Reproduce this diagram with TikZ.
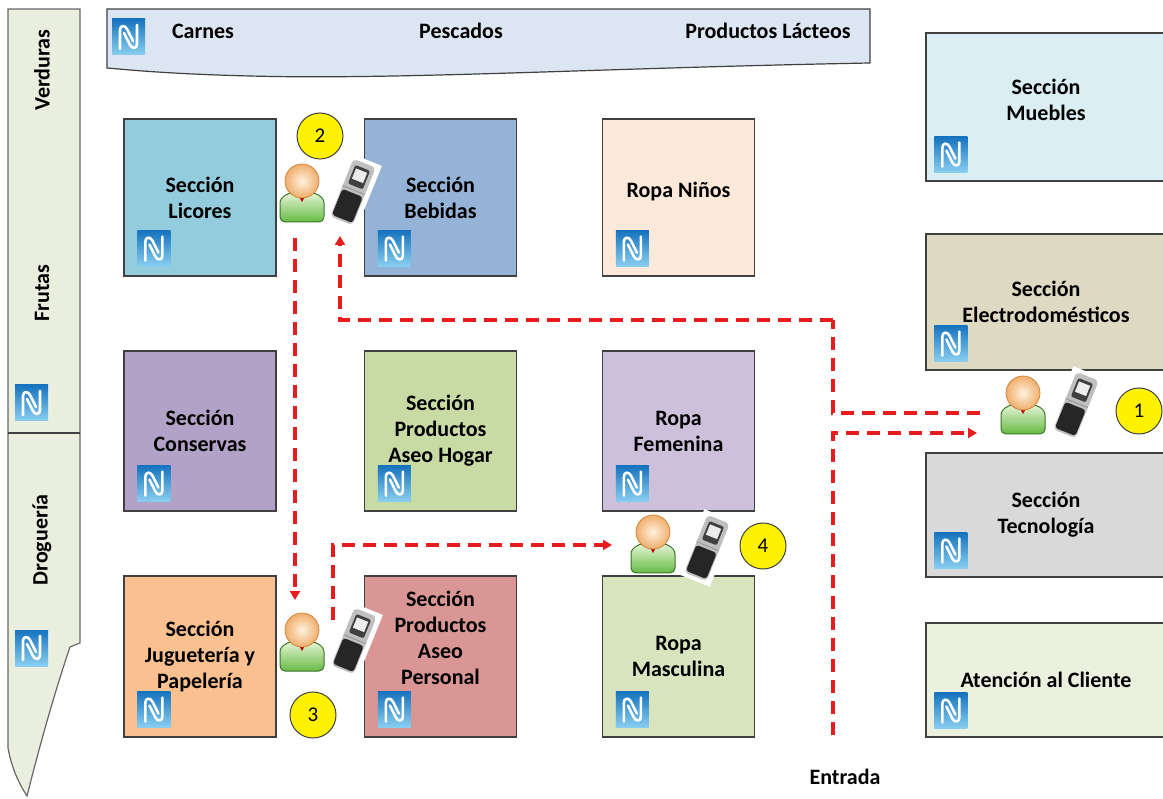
\documentclass[tikz,border=0pt]{standalone}
\usepackage{fontspec}
\setmainfont{Carlito}
\usetikzlibrary{arrows.meta}

% colori delle sezioni
\definecolor{bordo}{HTML}{404040}
\definecolor{licori}{HTML}{93CDDD}
\definecolor{bevande}{HTML}{95B3D7}
\definecolor{bambini}{HTML}{FDE9D9}
\definecolor{conserve}{HTML}{B3A2C7}
\definecolor{casa}{HTML}{C9DBA5}
\definecolor{donna}{HTML}{CCC0DA}
\definecolor{giochi}{HTML}{FAC090}
\definecolor{igiene}{HTML}{D99694}
\definecolor{uomo}{HTML}{D7E4BD}
\definecolor{mobili}{HTML}{DBEEF4}
\definecolor{elettro}{HTML}{DDD9C3}
\definecolor{tecno}{HTML}{D9D9D9}
\definecolor{cliente}{HTML}{EBF1DE}
\definecolor{banco}{HTML}{DCE6F2}
\definecolor{colonna}{HTML}{EAEEDF}
\definecolor{rosso}{HTML}{E81C1C}
\definecolor{nfcA}{HTML}{1673BE}
\definecolor{nfcB}{HTML}{8ACFF0}
\definecolor{verdeA}{HTML}{E8F6DA}
\definecolor{verdeB}{HTML}{66BA44}
\definecolor{verdeC}{HTML}{3A7526}
\definecolor{pelleA}{HTML}{FFF1DF}
\definecolor{pelleB}{HTML}{EFAE6C}

\tikzset{
  testo/.style={font=\bfseries\fontsize{22}{26}\selectfont},
  sezione/.style={testo, draw=bordo, line width=1.2pt, align=center,
    minimum width=152pt, minimum height=157pt, inner sep=0pt},
  reparto/.style={sezione, minimum width=240pt},
  numero/.style={circle, fill=yellow, draw=black!75, line width=1pt,
    minimum size=46pt, inner sep=0pt, font=\fontsize{21}{21}\selectfont},
  percorso/.style={draw=rosso, line width=3.4pt, dash pattern=on 13pt off 8pt},
  freccia/.style={percorso, -{Triangle[length=9pt,width=10pt]}},
  % logo NFC
  nfc/.pic={
    \shade[top color=nfcA, bottom color=nfcB] (0,0) rectangle (33,36);
    \draw[white, line width=2.6pt, line cap=round, line join=round]
      (8,30) -- (8,11) .. controls (8,6) and (13,6) .. (15,10) -- (21,22);
    \draw[white, line width=2.6pt, line cap=round, line join=round]
      (25,6) -- (25,25) .. controls (25,30) and (20,30) .. (18,26) -- (12,14);
  },
  % cliente
  persona/.pic={
    \draw[draw=verdeC, line width=1pt, top color=verdeA, bottom color=verdeB, rounded corners=5pt]
      (-22,41) -- (-22,27) .. controls (-22,15) and (-12,11) .. (0,11)
      .. controls (12,11) and (22,15) .. (22,27) -- (22,41) -- cycle;
    \fill[red!80!black] (-5,12) -- (5,12) -- (0,21) -- cycle;
    \shade[inner color=pelleA, outer color=pelleB] (0,0) circle (17);
    \draw[brown!75!orange, line width=0.7pt] (0,0) circle (17);
  },
  % cellulare
  telefono/.pic={
    \begin{scope}[rotate=-22]
      \fill[white] (-17,-35) rectangle (17,35);
      \fill[gray!50, rounded corners=4pt] (-12,-31) rectangle (12,31);
      \fill[black!75, rounded corners=2pt] (-8,-26) rectangle (8,-6);
      \fill[gray!15] (-6,-23) rectangle (6,-12);
      \fill[black!85, rounded corners=3pt] (-11,1) rectangle (11,29);
      \draw[gray!80, line width=1pt] (-12,-2) -- (12,-2);
    \end{scope}
  }
}

\begin{document}
\begin{tikzpicture}[x=1pt, y=-1pt]
  \useasboundingbox (0,0) rectangle (1163,799);
  \fill[white] (0,0) rectangle (1163,799);
  \clip (0,0) rectangle (1163,799);

  % Colonna sinistra
  \draw[fill=colonna, draw=bordo!80, line width=1.2pt]
    (8,9) -- (80,9) -- (80,643) -- (70,647)
    .. controls (52,700) and (36,760) .. (27,796)
    .. controls (20,785) and (12,770) .. (8,748) -- cycle;
  \draw[bordo, line width=1.2pt] (8,433) -- (80,433);
  \node[testo, rotate=90] (verdure) at (42,70) {Verduras};
  \node[testo, rotate=90] (frutta) at (42,293) {Frutas};
  \node[testo, rotate=90] (drogheria) at (42,540) {Droguería};
  \pic at (15,385) {nfc};
  \pic at (15,630) {nfc};

  % Banco in alto
  \draw[fill=banco, draw=bordo, line width=1.2pt]
    (107,9) -- (870,9) -- (870,63)
    .. controls (600,68) and (400,80) .. (250,76)
    .. controls (170,74) and (130,70) .. (107,68) -- cycle;
  \pic at (112,19) {nfc};
  \node[testo] (carni) at (203,31) {Carnes};
  \node[testo] (pesce) at (461,31) {Pescados};
  \node[testo] (latte) at (768,31) {Productos Lácteos};

  % Sezioni centrali
  \node[sezione, fill=licori] (licores) at (200,197.5) {Sección\\Licores};
  \node[sezione, fill=bevande] (bebidas) at (440.5,197.5) {Sección\\Bebidas};
  \node[sezione, fill=bambini] (ninos) at (678.5,197.5) {Ropa Niños\\[-11pt]};
  \node[sezione, fill=conserve, minimum height=160pt] (conservas) at (200,431) {Sección\\Conservas};
  \node[sezione, fill=casa, minimum height=160pt] (hogar) at (440.5,431) {Sección\\Productos\\Aseo Hogar};
  \node[sezione, fill=donna, minimum height=160pt] (femenina) at (678.5,431) {Ropa\\Femenina};
  \node[sezione, fill=giochi, minimum height=161pt] (jugueteria) at (200,656.5) {Sección\\Juguetería y\\Papelería};
  \node[sezione, fill=igiene, minimum height=161pt] (personal) at (440.5,656.5) {Sección\\Productos\\Aseo\\Personal\\[11pt]};
  \node[sezione, fill=uomo, minimum height=161pt] (masculina) at (678.5,656.5) {Ropa\\Masculina};

  % Reparti a destra
  \node[reparto, fill=mobili, minimum height=148pt] (muebles) at (1046,107) {Sección\\Muebles\\[-12pt]};
  \node[reparto, fill=elettro, minimum height=136pt] (electro) at (1046,302) {Sección\\Electrodomésticos};
  \node[reparto, fill=tecno, minimum height=124pt] (tecnologia) at (1046,515) {Sección\\Tecnología};
  \node[reparto, fill=cliente, minimum height=114pt] (atencion) at (1046,680) {Atención al Cliente};

  % Loghi NFC
  \foreach \s in {licores,bebidas,ninos,conservas,hogar,femenina,jugueteria,personal,masculina}
    \pic at ([shift={(14,-46)}]\s.south west) {nfc};
  \foreach \s in {muebles,electro,tecnologia,atencion}
    \pic at ([shift={(9,-45)}]\s.south west) {nfc};

  % Percorso del cliente
  \coordinate (entrata) at (833,735);
  \coordinate (arrivo1) at (977,433);
  \coordinate (uscita1) at (980,413);
  \coordinate (svolta) at (833,320);
  \coordinate (arrivo2) at (340,236);
  \coordinate (uscita2) at (295,238);
  \coordinate (arrivo3) at (295,600);
  \coordinate (uscita3) at (333,620);
  \coordinate (arrivo4) at (612,545);
  \draw[freccia] (entrata) |- (arrivo1);
  \draw[percorso] (uscita1) -| (svolta);
  \draw[freccia] (svolta) -| (arrivo2);
  \draw[freccia] (uscita2) -- (arrivo3);
  \draw[freccia] (uscita3) |- (arrivo4);

  % Clienti con cellulare
  \pic at (302,181) {persona};
  \pic at (353,192) {telefono};
  \pic at (1023,393) {persona};
  \pic at (1076,405) {telefono};
  \pic at (653,532) {persona};
  \pic at (707,548) {telefono};
  \pic at (302,630) {persona};
  \pic at (354,641) {telefono};

  % Numeri delle tappe
  \node[numero] (n1) at (1139,411) {1};
  \node[numero] (n2) at (320,136) {2};
  \node[numero] (n3) at (313,715) {3};
  \node[numero] (n4) at (763,546) {4};

  \node[testo] (ingresso) at (845,777) {Entrada};
\end{tikzpicture}
\end{document}
